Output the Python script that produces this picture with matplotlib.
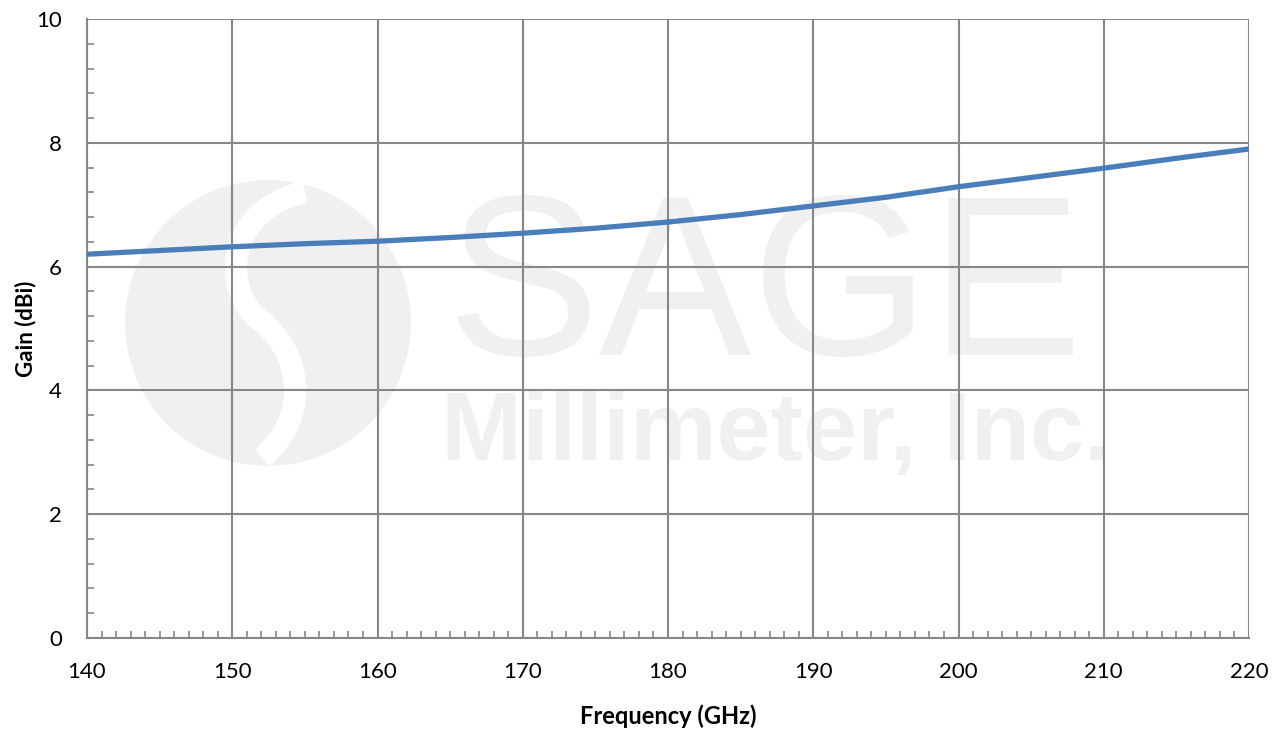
import numpy as np
import matplotlib
matplotlib.use("Agg")
import matplotlib.pyplot as plt
from matplotlib.patches import Ellipse, PathPatch
from matplotlib.path import Path
from matplotlib.ticker import MultipleLocator

freq = [140, 145, 150, 155, 160, 165, 170, 175, 180, 185, 190, 195, 200, 205, 210, 215, 220]
gain = [6.20, 6.26, 6.32, 6.37, 6.41, 6.47, 6.54, 6.62, 6.72, 6.84, 6.98, 7.12, 7.29, 7.44, 7.59, 7.75, 7.90]

x_ticks = [140, 150, 160, 170, 180, 190, 200, 210, 220]
y_ticks = [0, 2, 4, 6, 8, 10]

plt.rcParams['font.family'] = ['Lato', 'DejaVu Sans']

W, H = 1281, 732
fig = plt.figure(figsize=(W / 100, H / 100), dpi=100)
ax = fig.add_axes([87 / W, 1 - 638 / H, (1249 - 87) / W, (638 - 19) / H])

grid_col = '#878787'
wm = '#f0f0f0'


def px(x, y):
    # pixel (from top-left) -> figure fraction
    return (x / W, 1 - y / H)


# watermark logo, drawn inside the axes under the grid
logo = Ellipse(px(268, 323), 2 * 143 / W, 2 * 143 / H, transform=fig.transFigure,
               facecolor=wm, edgecolor='none', zorder=0.1)
ax.add_artist(logo)
verts = [px(305, 192), px(225, 210), px(220, 290), px(262, 322),
         px(300, 352), px(312, 415), px(262, 458)]
codes = [Path.MOVETO, Path.CURVE4, Path.CURVE4, Path.CURVE4, Path.CURVE4, Path.CURVE4, Path.CURVE4]
band = PathPatch(Path(verts, codes), transform=fig.transFigure, facecolor='none',
                 edgecolor='white', lw=16, capstyle='butt', zorder=0.2)
ax.add_artist(band)
ax.text(*px(447, 355), 'SAGE', transform=fig.transFigure, fontsize=165, color=wm,
        family='Liberation Sans', ha='left', va='baseline', zorder=0.1)
ax.text(*px(441, 460), 'Millimeter, Inc.', transform=fig.transFigure, fontsize=70, color=wm,
        family='Liberation Sans', fontweight='bold', ha='left', va='baseline', zorder=0.1)

ax.plot(freq, gain, color='#4a7ebb', lw=3.8, zorder=3, solid_capstyle='butt')

ax.set_xlim(140, 220)
ax.set_ylim(0, 10)
ax.set_xticks(x_ticks)
ax.set_yticks(y_ticks)
ax.xaxis.set_minor_locator(MultipleLocator(1))
ax.yaxis.set_minor_locator(MultipleLocator(0.4))
ax.grid(True, which='major', color=grid_col, lw=1.5)
ax.tick_params(which='major', length=0, labelsize=16, pad=17)
ax.tick_params(axis='y', which='major', pad=18)
ax.tick_params(which='minor', direction='in', length=5, width=1.2, color=grid_col)
for s in ax.spines.values():
    s.set_color(grid_col)
    s.set_linewidth(1.5)
ax.spines['top'].set_visible(False)
ax.spines['right'].set_visible(False)

ax.set_xlabel('Frequency (GHz)', fontsize=17, fontweight='bold')
ax.set_ylabel('Gain (dBi)', fontsize=16, fontweight='bold')
ax.xaxis.set_label_coords(0.5, -(716 - 638) / (638 - 19), transform=ax.transAxes)
ax.yaxis.set_label_coords(-(87 - 26) / (1249 - 87), 0.5, transform=ax.transAxes)
ax.xaxis.label.set_va('center')
ax.yaxis.label.set_va('center')

fig.savefig('out.png', dpi=100)
